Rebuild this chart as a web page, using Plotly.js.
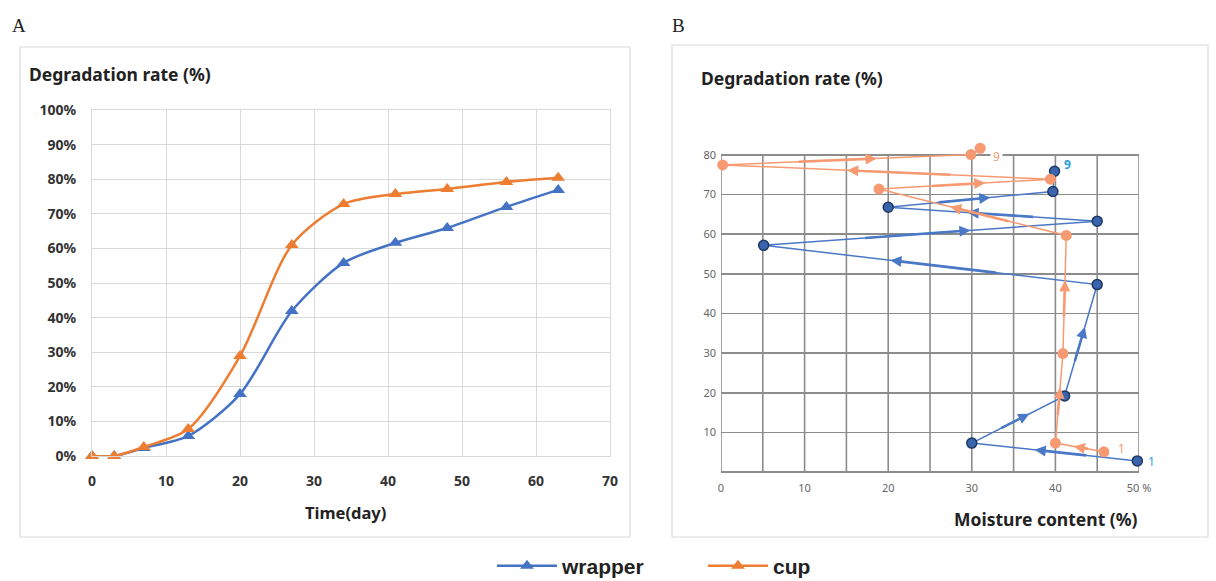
<!DOCTYPE html>
<html>
<head>
<meta charset="utf-8">
<script src="https://cdn.plot.ly/plotly-3.0.1.min.js"></script>
<style>html,body{margin:0;padding:0;background:#fff;}#chart{width:1216px;height:581px;}</style>
</head>
<body>
<div id="chart"></div>
<script>
// Panel A: degradation over time
const day = [0, 3, 7, 13, 20, 27, 34, 41, 48, 56, 63];
const wrapperRate = [0, 0, 2.3, 5.8, 17.9, 41.9, 55.8, 61.6, 65.9, 72.0, 76.9];
const cupRate = [0, 0, 2.6, 7.8, 28.9, 61.0, 72.8, 75.7, 77.2, 79.2, 80.4];
const xTicksA = [0, 10, 20, 30, 40, 50, 60, 70];
const yTicksA = [0, 10, 20, 30, 40, 50, 60, 70, 80, 90, 100];

// Panel B: degradation vs moisture content (sequence 1..9)
const wrapperMoisture = [49.8, 30.0, 41.1, 45.0, 5.1, 45.0, 20.0, 39.7, 39.9];
const wrapperDeg = [2.8, 7.3, 19.2, 47.3, 57.2, 63.3, 66.8, 70.8, 75.9];
const cupMoisture = [45.8, 40.0, 40.9, 41.3, 18.9, 39.4, 0.2, 29.9, 31.0];
const cupDeg = [5.1, 7.3, 29.9, 59.7, 71.4, 73.9, 77.5, 80.1, 81.7];
const xTicksB = [0, 10, 20, 30, 40, 50];
const xTickTextB = ['0', '10', '20', '30', '40', '50 %'];
const xGridB = [0, 5, 10, 15, 20, 25, 30, 35, 40, 45, 50];
const yTicksB = [10, 20, 30, 40, 50, 60, 70, 80];
const seqLabels = ['1', '9'];

const BLUE = '#4472C4', ORANGE = '#ED7D31';
const BLUE_B = '#4A78C6', ORANGE_B = '#F79A72';
const GRID_B = '#8C8C8C';
const W = 1216, H = 581;
const px = v => v / W, py = v => 1 - v / H;

const yMaxB = 83.5;           // room above the top grid line for the last points
const yPxPerUnit = (472 - 155) / 80;

const traces = [
  {x: day, y: wrapperRate.map(v => v / 100), name: 'wrapper', xaxis: 'x', yaxis: 'y',
   mode: 'lines+markers', line: {color: BLUE, width: 2.5, shape: 'spline', smoothing: 0.8},
   marker: {symbol: 'triangle-up', size: 12, color: BLUE}, cliponaxis: false},
  {x: day, y: cupRate.map(v => v / 100), name: 'cup', xaxis: 'x', yaxis: 'y',
   mode: 'lines+markers', line: {color: ORANGE, width: 2.5, shape: 'spline', smoothing: 0.8},
   marker: {symbol: 'triangle-up', size: 12, color: ORANGE}, cliponaxis: false},
  {x: wrapperMoisture, y: wrapperDeg, xaxis: 'x2', yaxis: 'y2', showlegend: false,
   mode: 'lines+markers', line: {color: BLUE_B, width: 1.5},
   marker: {symbol: 'circle', size: 10, color: '#3A64AC', line: {color: '#1F3864', width: 1.5}}, cliponaxis: false},
  {x: cupMoisture, y: cupDeg, xaxis: 'x2', yaxis: 'y2', showlegend: false,
   mode: 'lines+markers', line: {color: ORANGE_B, width: 1.5},
   marker: {symbol: 'circle', size: 11, color: ORANGE_B}, cliponaxis: false}
];

const annotations = [];
const shapes = [];

// panel frames
shapes.push({type: 'rect', xref: 'paper', yref: 'paper', x0: px(20), x1: px(630), y0: py(537), y1: py(47),
  line: {color: '#D9D9D9', width: 1.2}, layer: 'below'});
shapes.push({type: 'rect', xref: 'paper', yref: 'paper', x0: px(672), x1: px(1208), y0: py(537), y1: py(45),
  line: {color: '#D9D9D9', width: 1.2}, layer: 'below'});

// panel B vertical grid lines (stop at the top tick)
xGridB.forEach(v => shapes.push({type: 'line', xref: 'x2', yref: 'y2', x0: v, x1: v, y0: 0,
  y1: yTicksB[yTicksB.length - 1], line: {color: GRID_B, width: 1.6}, layer: 'below'}));

// panel letters
annotations.push({xref: 'paper', yref: 'paper', x: px(10), y: py(25), text: 'A', showarrow: false,
  xanchor: 'left', yanchor: 'middle', font: {family: 'Liberation Serif, serif', size: 19, color: '#222'}});
annotations.push({xref: 'paper', yref: 'paper', x: px(670), y: py(25), text: 'B', showarrow: false,
  xanchor: 'left', yanchor: 'middle', font: {family: 'Liberation Serif, serif', size: 19, color: '#222'}});

const titleFont = {family: 'Noto Sans, sans-serif', size: 17.5, color: '#222', weight: 'bold'};
annotations.push({xref: 'paper', yref: 'paper', x: px(27), y: py(74), text: 'Degradation rate (%)', showarrow: false,
  xanchor: 'left', yanchor: 'middle', font: titleFont});
annotations.push({xref: 'paper', yref: 'paper', x: px(699), y: py(78), text: 'Degradation rate (%)', showarrow: false,
  xanchor: 'left', yanchor: 'middle', font: titleFont});
annotations.push({xref: 'paper', yref: 'paper', x: px(952), y: py(519), text: 'Moisture content (%)', showarrow: false,
  xanchor: 'left', yanchor: 'middle', font: titleFont});
annotations.push({xref: 'paper', yref: 'paper', x: px(345), y: py(512), text: 'Time(day)', showarrow: false,
  xanchor: 'center', yanchor: 'middle', font: {family: 'Noto Sans, sans-serif', size: 16.5, color: '#222', weight: 'bold'}});

// arrows along panel B segments
function addArrows(xs, ys, color, axX, axY) {
  for (let i = 0; i < xs.length - 2; i++) {
    const dx = xs[i + 1] - xs[i], dy = ys[i + 1] - ys[i];
    const tHead = 0.62, tTail = 0.3;
    annotations.push({xref: axX, yref: axY, axref: axX, ayref: axY,
      x: xs[i] + dx * tHead, y: ys[i] + dy * tHead,
      ax: xs[i] + dx * tTail, ay: ys[i] + dy * tTail,
      text: '', showarrow: true, arrowhead: 2, arrowsize: 0.85, arrowwidth: 2.6, arrowcolor: color, standoff: 0});
  }
}
addArrows(wrapperMoisture, wrapperDeg, BLUE_B, 'x2', 'y2');
addArrows(cupMoisture, cupDeg, ORANGE_B, 'x2', 'y2');

// sequence labels (first and last points)
const lastW = wrapperMoisture.length - 1, lastC = cupMoisture.length - 1;
annotations.push({xref: 'x2', yref: 'y2', x: wrapperMoisture[0], y: wrapperDeg[0], text: seqLabels[0], showarrow: false,
  xshift: 14, yshift: -1, font: {family: 'Noto Sans, sans-serif', size: 12, color: '#2E9BE0'}});
annotations.push({xref: 'x2', yref: 'y2', x: wrapperMoisture[lastW], y: wrapperDeg[lastW], text: seqLabels[1], showarrow: false,
  xshift: 13, yshift: 7, font: {family: 'Noto Sans, sans-serif', size: 12, color: '#2E9BE0', weight: 'bold'}});
annotations.push({xref: 'x2', yref: 'y2', x: cupMoisture[0], y: cupDeg[0], text: seqLabels[0], showarrow: false,
  xshift: 18, yshift: 3, font: {family: 'Noto Sans, sans-serif', size: 12, color: ORANGE_B}});
annotations.push({xref: 'x2', yref: 'y2', x: cupMoisture[lastC], y: cupDeg[lastC], text: seqLabels[1], showarrow: false,
  xshift: 16, yshift: -8, bgcolor: '#fff', borderpad: 2, font: {family: 'Noto Sans, sans-serif', size: 12, color: ORANGE_B}});

const tickFontA = {family: 'Noto Sans, sans-serif', size: 14, color: '#333', weight: 'bold'};
const tickFontB = {family: 'Noto Sans, sans-serif', size: 11, color: '#666'};

const layout = {
  width: W, height: H,
  margin: {l: 0, r: 0, t: 0, b: 0, autoexpand: false},
  paper_bgcolor: '#fff', plot_bgcolor: 'rgba(0,0,0,0)',
  showlegend: true,
  legend: {orientation: 'h', x: px(492), xanchor: 'left', y: py(566), yanchor: 'middle',
    font: {family: 'Liberation Sans, Arial, sans-serif', size: 21, color: '#222', weight: 'bold'},
    itemwidth: 60, entrywidth: 136, tracegroupgap: 0},
  xaxis: {domain: [px(92), px(610)], range: [0, 70], tickvals: xTicksA, showgrid: true, gridcolor: '#D9D9D9',
    zeroline: false, showline: true, mirror: true, linecolor: '#D9D9D9', ticks: '', tickfont: tickFontA,
    anchor: 'y', ticklabelstandoff: 12, automargin: false},
  yaxis: {domain: [py(456), py(110)], range: [0, 1], tickvals: yTicksA.map(v => v / 100), tickformat: '.0%',
    showgrid: true, gridcolor: '#D9D9D9', zeroline: false, showline: true, mirror: true, linecolor: '#D9D9D9',
    ticks: '', tickfont: tickFontA, anchor: 'x', ticklabelstandoff: 12, automargin: false},
  xaxis2: {domain: [px(721), px(1139)], range: [0, 50], tickvals: xTicksB, ticktext: xTickTextB,
    showgrid: false, zeroline: false, showline: false,
    ticks: '', tickfont: tickFontB, anchor: 'y2', ticklabelstandoff: 8, automargin: false},
  yaxis2: {domain: [py(472), py(472 - yMaxB * yPxPerUnit)], range: [0, yMaxB], tickvals: yTicksB,
    showgrid: true, gridcolor: GRID_B, gridwidth: 1.6, zeroline: true, zerolinecolor: GRID_B, zerolinewidth: 1.6,
    showline: false, ticks: '', tickfont: tickFontB, anchor: 'x2', ticklabelstandoff: 4, automargin: false},
  annotations: annotations,
  shapes: shapes
};

Plotly.newPlot('chart', traces, layout, {displayModeBar: false, staticPlot: true});
</script>
</body>
</html>
